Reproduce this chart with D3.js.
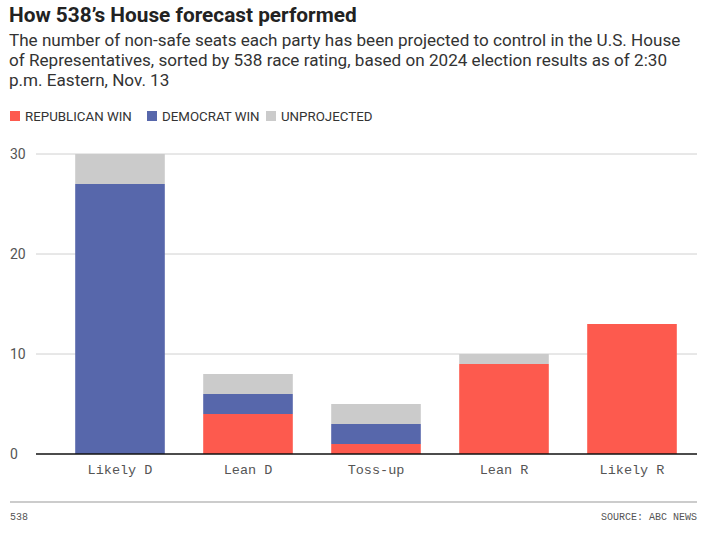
<!DOCTYPE html>
<html>
<head>
<meta charset="utf-8">
<script src="https://cdn.jsdelivr.net/npm/d3@7"></script>
<style>
  body { margin: 0; background: #fff; }
  text { font-family: Roboto, "Noto Sans", sans-serif; }
  .mono { font-family: "Liberation Mono", "DejaVu Sans Mono", monospace; }
</style>
</head>
<body>
<div id="chart"></div>
<script>
const ratings = ["Likely D", "Lean D", "Toss-up", "Lean R", "Likely R"];
const republican = [0, 4, 1, 9, 13];
const democrat = [27, 2, 2, 0, 0];
const unprojected = [3, 2, 2, 1, 0];
const yTicks = [0, 10, 20, 30];

const keys = ["rep", "dem", "unp"];
const labels = {rep: "REPUBLICAN WIN", dem: "DEMOCRAT WIN", unp: "UNPROJECTED"};
const colors = {rep: "#fd5a4e", dem: "#5767ab", unp: "#cbcbcb"};

const width = 706, height = 535;
const table = ratings.map((r, i) => ({rating: r, rep: republican[i], dem: democrat[i], unp: unprojected[i]}));

const svg = d3.select("#chart").append("svg")
    .attr("width", width)
    .attr("height", height);

svg.append("text")
    .attr("x", 9).attr("y", 22)
    .attr("font-size", 20.8).attr("font-weight", 700)
    .attr("fill", "#222")
    .text("How 538\u2019s House forecast performed");

const sub = [
    "The number of non-safe seats each party has been projected to control in the U.S. House",
    "of Representatives, sorted by 538 race rating, based on 2024 election results as of 2:30",
    "p.m. Eastern, Nov. 13"
];
svg.append("g").selectAll("text").data(sub).join("text")
    .attr("x", 9).attr("y", (d, i) => 46 + i * 20)
    .attr("font-size", 17.1).attr("fill", "#333")
    .text(d => d);

// legend
const legendX = {rep: 10, dem: 147, unp: 266};
const lg = svg.append("g").selectAll("g").data(keys).join("g")
    .attr("transform", d => "translate(" + legendX[d] + ",111)");
lg.append("rect").attr("width", 10).attr("height", 10).attr("fill", d => colors[d]);
lg.append("text").attr("x", 15).attr("y", 10)
    .attr("font-size", 13.3).attr("fill", "#333")
    .text(d => labels[d]);

const x = d3.scaleBand()
    .domain(ratings)
    .range([56, 696])
    .paddingInner(0.3)
    .paddingOuter(0.15);

const y = d3.scaleLinear()
    .domain([0, 30])
    .range([454, 154]);

// grid
svg.append("g").selectAll("line").data(yTicks.filter(d => d > 0)).join("line")
    .attr("x1", 36).attr("x2", 697)
    .attr("y1", d => y(d)).attr("y2", d => y(d))
    .attr("stroke", "#d0d0d0");

svg.append("g").selectAll("text").data(yTicks).join("text")
    .attr("x", 10).attr("y", d => y(d) + 5)
    .attr("font-size", 14).attr("fill", "#555")
    .text(d => d);

const stacked = d3.stack().keys(keys)(table);
svg.append("g").selectAll("g").data(stacked).join("g")
    .attr("fill", d => colors[d.key])
    .selectAll("rect").data(d => d).join("rect")
    .attr("x", d => x(d.data.rating))
    .attr("width", x.bandwidth())
    .attr("y", d => y(d[1]))
    .attr("height", d => y(d[0]) - y(d[1]));

svg.append("line")
    .attr("x1", 36).attr("x2", 697)
    .attr("y1", y(0)).attr("y2", y(0))
    .attr("stroke", "#111").attr("stroke-width", 1.5);

const xAxis = d3.axisBottom(x).tickSize(0).tickPadding(10);
const gx = svg.append("g")
    .attr("transform", "translate(0," + y(0) + ")")
    .call(xAxis);
gx.select(".domain").remove();
gx.selectAll("text")
    .attr("class", "mono")
    .attr("font-size", 13.5)
    .attr("fill", "#555");

// footer
svg.append("line")
    .attr("x1", 10).attr("x2", 697)
    .attr("y1", 502).attr("y2", 502)
    .attr("stroke", "#999");
svg.append("text").attr("class", "mono")
    .attr("x", 10).attr("y", 520)
    .attr("font-size", 10).attr("fill", "#555")
    .text("538");
svg.append("text").attr("class", "mono")
    .attr("x", 697).attr("y", 520)
    .attr("text-anchor", "end")
    .attr("font-size", 10).attr("fill", "#555")
    .text("SOURCE: ABC NEWS");
</script>
</body>
</html>
